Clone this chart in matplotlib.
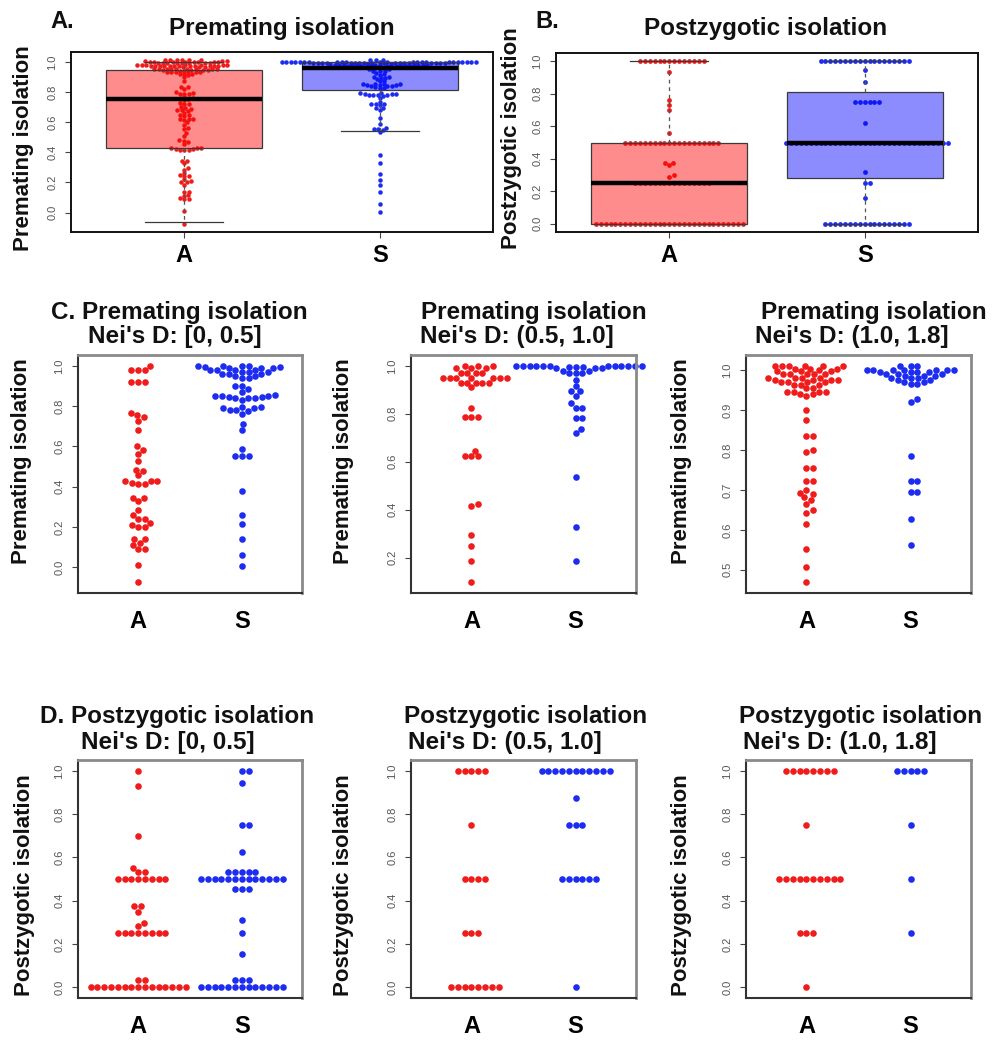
import numpy as np
import matplotlib
matplotlib.use("Agg")
import matplotlib.pyplot as plt

plt.rcParams['font.family'] = ['Liberation Sans', 'DejaVu Sans']

W, H, DPI = 998, 1041, 100

groups = ["A", "S"]
RED = "#f01c1c"
BLUE = "#1c2cf0"
RED_FILL = (1.0, 0.0, 0.0, 0.45)
BLUE_FILL = (0.0, 0.0, 1.0, 0.45)


def expand(vals, counts):
    return np.repeat(np.asarray(vals, dtype=float), counts)


# ---- premating isolation by Nei's D class ----
pre_low_A = [1.0, 0.98, 0.98, 0.98, 0.92, 0.92, 0.92, 0.765, 0.757, 0.745,
             0.727, 0.68, 0.60, 0.584, 0.564, 0.526, 0.484, 0.476, 0.456,
             0.43, 0.43, 0.43, 0.42, 0.413, 0.413, 0.344, 0.344, 0.327,
             0.286, 0.26, 0.24, 0.24, 0.22, 0.21, 0.20, 0.20, 0.14, 0.14,
             0.12, 0.11, 0.09, 0.09, 0.013, -0.074]
pre_low_S = [1.0, 1.0, 1.0, 1.0, 0.995, 0.995, 0.99, 0.99, 0.99, 0.98,
             0.98, 0.98, 0.98, 0.97, 0.97, 0.97, 0.96, 0.96, 0.96, 0.95,
             0.95, 0.94, 0.94, 0.90, 0.90, 0.885, 0.87, 0.855, 0.85, 0.85,
             0.85, 0.845, 0.845, 0.84, 0.84, 0.84, 0.83, 0.795, 0.795, 0.79,
             0.79, 0.78, 0.78, 0.775, 0.762, 0.712, 0.683, 0.587, 0.554,
             0.554, 0.55, 0.38, 0.258, 0.215, 0.14, 0.06, 0.005]

pre_mid_A = [1.0, 1.0, 1.0, 0.99, 0.99, 0.99, 0.97, 0.97, 0.97, 0.97,
             0.95, 0.95, 0.95, 0.95, 0.95, 0.95, 0.95, 0.93, 0.93, 0.93,
             0.93, 0.93, 0.91, 0.823, 0.787, 0.787, 0.787, 0.645, 0.623,
             0.623, 0.623, 0.422, 0.417, 0.296, 0.25, 0.185, 0.097]
pre_mid_S = [1.0, 1.0, 1.0, 1.0, 1.0, 1.0, 1.0, 1.0, 1.0, 1.0, 1.0, 1.0,
             0.995, 0.995, 0.995, 0.99, 0.99, 0.99, 0.98, 0.98, 0.97, 0.97,
             0.97, 0.94, 0.915, 0.895, 0.895, 0.875, 0.845, 0.825, 0.825,
             0.783, 0.783, 0.735, 0.718, 0.535, 0.328, 0.185]

pre_high_A = [1.011, 1.011, 1.011, 1.011, 1.011, 1.011, 1.003, 1.003, 1.003,
              1.0, 0.997, 0.997, 0.997, 0.99, 0.99, 0.99, 0.99, 0.99, 0.98,
              0.98, 0.98, 0.98, 0.975, 0.975, 0.975, 0.975, 0.97, 0.97,
              0.97, 0.97, 0.963, 0.963, 0.963, 0.955, 0.955, 0.945, 0.945,
              0.945, 0.945, 0.94, 0.94, 0.935, 0.90, 0.875, 0.834, 0.834,
              0.80, 0.795, 0.755, 0.755, 0.723, 0.723, 0.70, 0.693, 0.69,
              0.682, 0.676, 0.664, 0.649, 0.643, 0.616, 0.553, 0.508, 0.469]
pre_high_S = [1.011, 1.011, 1.011, 1.0, 1.0, 1.0, 1.0, 1.0, 1.0, 1.0,
              0.995, 0.995, 0.995, 0.995, 0.99, 0.99, 0.99, 0.985, 0.985,
              0.985, 0.98, 0.98, 0.98, 0.975, 0.975, 0.97, 0.97, 0.965,
              0.965, 0.927, 0.921, 0.786, 0.722, 0.722, 0.695, 0.695, 0.628,
              0.563]

# ---- postzygotic isolation by Nei's D class (value, count) ----
post_low_A_vals = [1.0, 0.932, 0.70, 0.549, 0.533, 0.5, 0.374, 0.348, 0.298, 0.283, 0.25, 0.034, 0.0]
post_low_A_counts = [1, 1, 1, 1, 2, 8, 2, 1, 1, 1, 8, 2, 15]
post_low_S_vals = [1.0, 0.946, 0.75, 0.623, 0.533, 0.5, 0.453, 0.31, 0.25, 0.155, 0.034, 0.0]
post_low_S_counts = [2, 1, 2, 1, 5, 13, 3, 1, 1, 1, 3, 13]

post_mid_A_vals = [1.0, 0.75, 0.5, 0.25, 0.0]
post_mid_A_counts = [5, 1, 4, 3, 8]
post_mid_S_vals = [1.0, 0.875, 0.75, 0.5, 0.0]
post_mid_S_counts = [11, 1, 3, 6, 1]

post_high_A_vals = [1.0, 0.75, 0.5, 0.25, 0.0]
post_high_A_counts = [8, 1, 10, 3, 1]
post_high_S_vals = [1.0, 0.75, 0.5, 0.25]
post_high_S_counts = [5, 1, 1, 1]

# ---- all pairs, postzygotic isolation (value, count) ----
post_all_A_vals = [1.0, 0.935, 0.76, 0.73, 0.70, 0.56, 0.5, 0.375, 0.36, 0.30, 0.29, 0.25, 0.0]
post_all_A_counts = [14, 1, 1, 1, 1, 1, 20, 2, 1, 1, 1, 16, 31]
post_all_S_vals = [1.0, 0.945, 0.873, 0.75, 0.622, 0.5, 0.316, 0.25, 0.16, 0.0]
post_all_S_counts = [19, 1, 1, 6, 1, 34, 1, 2, 1, 18]

# ---- box summaries (whisker low, Q1, median, Q3, whisker high) ----
box_pre_A = [-0.065, 0.43, 0.755, 0.948, 1.0]
box_pre_S = [0.54, 0.81, 0.958, 1.0, 1.0]
box_post_A = [0.0, 0.0, 0.25, 0.5, 1.0]
box_post_S = [0.0, 0.283, 0.5, 0.81, 1.0]

pre_all_A = np.concatenate([pre_low_A, pre_mid_A, pre_high_A])
pre_all_S = np.concatenate([pre_low_S, pre_mid_S, pre_high_S])
post_all_A = expand(post_all_A_vals, post_all_A_counts)
post_all_S = expand(post_all_S_vals, post_all_S_counts)

fig = plt.figure(figsize=(W / DPI, H / DPI), dpi=DPI)
fig.patch.set_facecolor("white")


def px_axes(left, top, right, bottom):
    return fig.add_axes([left / W, 1 - bottom / H, (right - left) / W, (bottom - top) / H])


def swarm_x(ax, values, pos, xunit, yunit):
    """Beeswarm layout (ascending priority) computed in display pixels."""
    values = np.asarray(values, dtype=float)
    t = ax.transData
    ypix = t.transform(np.column_stack([np.full(len(values), pos), values]))[:, 1] / yunit
    order = np.argsort(ypix, kind="stable")
    px_list, py_list = [], []
    off = np.zeros(len(values))
    for i in order:
        y = ypix[i]
        close = [(px, py) for px, py in zip(px_list, py_list) if abs(py - y) < 1]
        cand = [0.0]
        cand += [px + np.sqrt(1 - (py - y) ** 2) for px, py in close]
        cand += [px - np.sqrt(1 - (py - y) ** 2) for px, py in close]
        best, best_abs = None, np.inf
        for c in cand:
            if all((c - px) ** 2 + (y - py) ** 2 >= 1 - 1e-6 for px, py in close):
                if abs(c) < best_abs - 1e-9:
                    best, best_abs = c, abs(c)
        off[i] = best
        px_list.append(best)
        py_list.append(y)
    ppu = t.transform([[1, 0]])[0, 0] - t.transform([[0, 0]])[0, 0]
    return pos + off * xunit / ppu


def r_ylim(data_list, frac=0.05):
    allv = np.concatenate([np.asarray(d, float) for d in data_list])
    lo, hi = allv.min(), allv.max()
    pad = frac * (hi - lo)
    return lo - pad, hi + pad


def style_axes(ax, yticks, ylim, xtick_len, xpad, spine_mode):
    ax.set_xlim(0.42, 2.58)
    ax.set_ylim(*ylim)
    ax.set_yticks(yticks)
    ax.set_yticklabels([f"{v:.1f}" for v in yticks])
    ax.set_xticks([1, 2])
    ax.set_xticklabels(groups, fontsize=17, fontweight="bold")
    ax.tick_params(axis="y", length=4.3, width=0.8, color="#444444", pad=5.5,
                   labelsize=8, labelcolor="#555555")
    ax.tick_params(axis="x", length=xtick_len, width=0.8, color="#444444", pad=xpad)
    for lbl in ax.get_yticklabels():
        lbl.set_rotation(90)
        lbl.set_va("center")
    if spine_mode == "box":
        for s in ax.spines.values():
            s.set_color("#111111")
            s.set_linewidth(1.4)
    else:
        for k in ("left", "bottom"):
            ax.spines[k].set_color("#333333")
            ax.spines[k].set_linewidth(1.5)
        for k in ("top", "right"):
            ax.spines[k].set_color("#8a8a8a")
            ax.spines[k].set_linewidth(2.0)


def draw_swarm(ax, data_pair, xunit, yunit, dot_px):
    s = (dot_px * 72 / DPI) ** 2
    for pos, vals, col in zip((1, 2), data_pair, (RED, BLUE)):
        xs = swarm_x(ax, vals, pos, xunit, yunit)
        ax.scatter(xs, vals, s=s, c=col, linewidths=0, zorder=2, clip_on=False)


def draw_boxes(ax, summaries):
    stats = []
    for b in summaries:
        stats.append(dict(whislo=b[0], q1=b[1], med=b[2], q3=b[3], whishi=b[4], fliers=[]))
    bp = ax.bxp(stats, positions=[1, 2], widths=0.8, capwidths=0.4, patch_artist=True,
                showfliers=False, manage_ticks=False, zorder=3,
                boxprops=dict(edgecolor="#3a3a3a", linewidth=0.9),
                whiskerprops=dict(color="#555555", linewidth=0.9, linestyle=(0, (3, 3))),
                capprops=dict(color="#3a3a3a", linewidth=0.9),
                medianprops=dict(color="black", linewidth=3.2, solid_capstyle="butt"))
    for patch, fc in zip(bp["boxes"], (RED_FILL, BLUE_FILL)):
        patch.set_facecolor(fc)


def label(x, y, text, size, rot=0, ha="center", va="baseline"):
    fig.text(x / W, 1 - y / H, text, fontsize=size, fontweight="bold", rotation=rot,
             ha=ha, va=va, color="#111111")


# ---- panel A ----
axA = px_axes(71, 52, 493, 232)
style_axes(axA, np.arange(0, 1.01, 0.2), r_ylim([pre_all_A, pre_all_S]), 4.3, 4.5, "box")
draw_swarm(axA, (pre_all_A, pre_all_S), 4.5, 3.0, 4.5)
draw_boxes(axA, (box_pre_A, box_pre_S))

# ---- panel B ----
axB = px_axes(556, 53, 978, 232)
style_axes(axB, np.arange(0, 1.01, 0.2), r_ylim([post_all_A, post_all_S]), 4.3, 4.5, "box")
draw_swarm(axB, (post_all_A, post_all_S), 4.9, 4.3, 4.8)
draw_boxes(axB, (box_post_A, box_post_S))

label(50, 28, "A.", 17, ha="left")
label(282, 35, "Premating isolation", 17.5)
label(535, 28, "B.", 17, ha="left")
label(766, 35, "Postzygotic isolation", 17.5)
label(24, 148, "Premating isolation", 16, rot=90, va="center")
label(512, 138, "Postzygotic isolation", 16, rot=90, va="center")

# ---- rows C and D ----
cols = [(78, 302), (411, 636), (746, 971)]
pre_sets = [(pre_low_A, pre_low_S), (pre_mid_A, pre_mid_S), (pre_high_A, pre_high_S)]
post_sets = [
    (expand(post_low_A_vals, post_low_A_counts), expand(post_low_S_vals, post_low_S_counts)),
    (expand(post_mid_A_vals, post_mid_A_counts), expand(post_mid_S_vals, post_mid_S_counts)),
    (expand(post_high_A_vals, post_high_A_counts), expand(post_high_S_vals, post_high_S_counts)),
]
pre_ticks = [np.arange(0, 1.01, 0.2), np.arange(0.2, 1.01, 0.2), np.arange(0.5, 1.01, 0.1)]
ranges = ["Nei's D: [0, 0.5]", "Nei's D: (0.5, 1.0]", "Nei's D: (1.0, 1.8]"]

c_line1 = [("C. Premating isolation", 179), ("Premating isolation", 534), ("Premating isolation", 874)]
c_line2 = [175, 517, 852]
d_line1 = [("D. Postzygotic isolation", 177), ("Postzygotic isolation", 526), ("Postzygotic isolation", 861)]
d_line2 = [168, 505, 840]
c_ylab_x = [22, 343, 682]
d_ylab_x = [25, 344, 682]

for k, (l, r) in enumerate(cols):
    ax = px_axes(l, 355, r, 593)
    style_axes(ax, pre_ticks[k], r_ylim(pre_sets[k]), 0, 12.5, "frame")
    draw_swarm(ax, pre_sets[k], 6.8, 6.0, 6.6)
    label(c_line1[k][1], 319, c_line1[k][0], 17.5)
    label(c_line2[k], 343, ranges[k], 17.5)
    label(c_ylab_x[k], 461, "Premating isolation", 16, rot=90, va="center")

    ax = px_axes(l, 760, r, 998)
    style_axes(ax, np.arange(0, 1.01, 0.2), r_ylim(post_sets[k]), 0, 12.5, "frame")
    draw_swarm(ax, post_sets[k], 6.8, 6.0, 6.6)
    label(d_line1[k][1], 723, d_line1[k][0], 17.5)
    label(d_line2[k], 749, ranges[k], 17.5)
    label(d_ylab_x[k], 885, "Postzygotic isolation", 16, rot=90, va="center")

fig.savefig("out.png", dpi=DPI, facecolor="white")
